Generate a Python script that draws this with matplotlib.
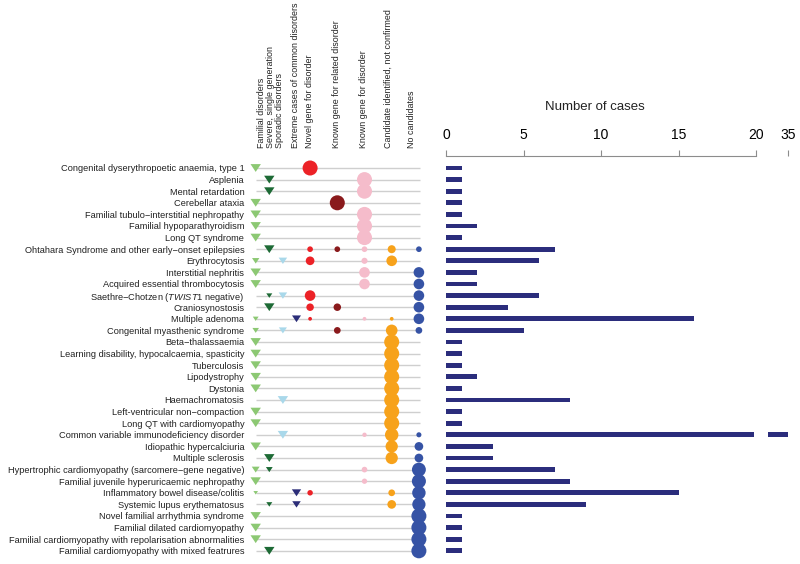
import numpy as np
import matplotlib
matplotlib.use("Agg")
import matplotlib.pyplot as plt

plt.rcParams['font.family'] = ['Liberation Sans', 'DejaVu Sans']
plt.rcParams['mathtext.fontset'] = 'custom'
plt.rcParams['mathtext.rm'] = 'Liberation Sans'
plt.rcParams['mathtext.it'] = 'Liberation Sans:italic'

# disorders, top to bottom
disorders = [
    "Congenital dyserythropoetic anaemia, type 1",
    "Asplenia",
    "Mental retardation",
    "Cerebellar ataxia",
    "Familial tubulo\u2212interstitial nephropathy",
    "Familial hypoparathyroidism",
    "Long QT syndrome",
    "Ohtahara Syndrome and other early\u2212onset epilepsies",
    "Erythrocytosis",
    "Interstitial nephritis",
    "Acquired essential thrombocytosis",
    "Saethre\u2212Chotzen ($\\mathit{TWIST1}$ negative)",
    "Craniosynostosis",
    "Multiple adenoma",
    "Congenital myasthenic syndrome",
    "Beta\u2212thalassaemia",
    "Learning disability, hypocalcaemia, spasticity",
    "Tuberculosis",
    "Lipodystrophy",
    "Dystonia",
    "Haemachromatosis",
    "Left-ventricular non\u2212compaction",
    "Long QT with cardiomyopathy",
    "Common variable immunodeficiency disorder",
    "Idiopathic hypercalciuria",
    "Multiple sclerosis",
    "Hypertrophic cardiomyopathy (sarcomere\u2212gene negative)",
    "Familial juvenile hyperuricaemic nephropathy",
    "Inflammatory bowel disease/colitis",
    "Systemic lupus erythematosus",
    "Novel familial arrhythmia syndrome",
    "Familial dilated cardiomyopathy",
    "Familial cardiomyopathy with repolarisation abnormalities",
    "Familial cardiomyopathy with mixed featrures",
]
cases = [1, 1, 1, 1, 1, 2, 1, 7, 6, 2, 2, 6, 4, 16, 5, 1, 1, 1, 2, 1,
         8, 1, 1, 35, 3, 3, 7, 8, 15, 9, 1, 1, 1, 1]

# study design (triangles), counts per disorder
familial = [1, 0, 0, 1, 1, 2, 1, 0, 3, 2, 2, 0, 0, 5, 2, 1, 1, 1, 2, 1,
            0, 1, 1, 0, 3, 0, 4, 8, 3, 0, 1, 1, 1, 0]
severe   = [0, 1, 1, 0, 0, 0, 0, 7, 0, 0, 0, 2, 4, 0, 0, 0, 0, 0, 0, 0,
            0, 0, 0, 0, 0, 3, 3, 0, 0, 3, 0, 0, 0, 1]
sporadic = [0, 0, 0, 0, 0, 0, 0, 0, 4, 0, 0, 4, 0, 0, 3, 0, 0, 0, 0, 0,
            8, 0, 0, 35, 0, 0, 0, 0, 0, 0, 0, 0, 0, 0]
extreme  = [0, 0, 0, 0, 0, 0, 0, 0, 0, 0, 0, 0, 0, 12, 0, 0, 0, 0, 0, 0,
            0, 0, 0, 0, 0, 0, 0, 0, 12, 6, 0, 0, 0, 0]

# outcome (circles), counts per disorder
novel     = [1, 0, 0, 0, 0, 0, 0, 1, 2, 0, 0, 3, 1, 1, 0, 0, 0, 0, 0, 0,
             0, 0, 0, 0, 0, 0, 0, 0, 2, 0, 0, 0, 0, 0]
related   = [0, 0, 0, 1, 0, 0, 0, 1, 0, 0, 0, 0, 1, 0, 1, 0, 0, 0, 0, 0,
             0, 0, 0, 0, 0, 0, 0, 0, 0, 0, 0, 0, 0, 0]
known     = [0, 1, 1, 0, 1, 2, 1, 1, 1, 1, 1, 0, 0, 1, 0, 0, 0, 0, 0, 0,
             0, 0, 0, 3, 0, 0, 1, 1, 0, 0, 0, 0, 0, 0]
candidate = [0, 0, 0, 0, 0, 0, 0, 2, 3, 0, 0, 0, 0, 1, 3, 1, 1, 1, 2, 1,
             8, 1, 1, 28, 2, 2, 0, 0, 3, 3, 0, 0, 0, 0]
nocand    = [0, 0, 0, 0, 0, 0, 0, 1, 0, 1, 1, 3, 2, 8, 1, 0, 0, 0, 0, 0,
             0, 0, 0, 4, 1, 1, 6, 7, 12, 7, 1, 1, 1, 1]

col_labels = ["Familial disorders", "Severe, single generation", "Sporadic disorders",
              "Extreme cases of common disorders", "Novel gene for disorder",
              "Known gene for related disorder", "Known gene for disorder",
              "Candidate identified, not confirmed", "No candidates"]
bar_ticks = [0, 5, 10, 15, 20, 35]

tri_series = [familial, severe, sporadic, extreme]
tri_colors = ['#8cc873', '#1d6a35', '#a9d8ea', '#2b2d78']
circ_series = [novel, related, known, candidate, nocand]
circ_colors = ['#ec2227', '#8a1a1c', '#f5bccb', '#f7a21b', '#3653a5']
tri_x = [0, 1, 2, 3]
circ_x = [4, 6, 8, 10, 12]

W, H = 800, 564
fig = plt.figure(figsize=(W / 100, H / 100), dpi=100)

n = len(disorders)
row_px = 11.6
top_px = 168 - row_px / 2
bot = 1 - (top_px + n * row_px) / H
hgt = n * row_px / H

# matrix panel
unit = 13.6
c0 = 255.7
ax_m = fig.add_axes([245 / W, bot, 185 / W, hgt])
ax_m.set_xlim((245 - c0) / unit, (430 - c0) / unit)
ax_m.set_ylim(n - 0.5, -0.5)
rows = np.arange(n)
ax_m.hlines(rows, 0, 12.1, color='#cfcfcf', lw=1.0, zorder=1)

tri = [(-1, 0.75), (1, 0.75), (0, -0.75)]
tri_full = 56.0
circ_full = 117.0
tot = np.array(cases, dtype=float)
for xs, vals, col in zip(tri_x, tri_series, tri_colors):
    v = np.array(vals, dtype=float)
    m = v > 0
    ax_m.scatter(np.full(m.sum(), xs), rows[m], s=tri_full * v[m] / tot[m],
                 marker=tri, color=col, linewidths=0, zorder=3, clip_on=False)
for xs, vals, col in zip(circ_x, circ_series, circ_colors):
    v = np.array(vals, dtype=float)
    m = v > 0
    ax_m.scatter(np.full(m.sum(), xs), rows[m], s=circ_full * v[m] / tot[m],
                 marker='o', color=col, linewidths=0, zorder=3, clip_on=False)

ax_m.set_yticks(rows)
ax_m.set_yticklabels(disorders, fontsize=6.7, color='#222222')
ax_m.tick_params(axis='y', length=0, pad=0.5)
ax_m.set_xticks([])
for s in ax_m.spines.values():
    s.set_visible(False)

hdr_px = [261.7, 270.3, 280.0, 295.0, 310.0, 336.7, 363.3, 388.3, 411.7]
for xp, lab in zip(hdr_px, col_labels):
    fig.text(xp / W, 1 - 148 / H, lab, rotation=90, ha='center', va='bottom',
             fontsize=6.4, color='#222222')

# bar panel, axis broken after 20
zero_px = 446
per = 15.5
ax_b = fig.add_axes([440 / W, bot, 360 / W, hgt])
ax_b.set_xlim((440 - zero_px) / per, (800 - zero_px) / per)
ax_b.set_ylim(n - 0.5, -0.5)
brk_lo, brk_hi, top_pos = 19.85, 20.75, (788 - zero_px) / per
bar_col = '#2b2d7c'
for i, v in enumerate(cases):
    if v <= 20:
        ax_b.barh(i, v, height=0.43, color=bar_col, linewidth=0)
    else:
        ax_b.barh(i, brk_lo, height=0.43, color=bar_col, linewidth=0)
        ax_b.barh(i, top_pos - brk_hi, left=brk_hi, height=0.43, color=bar_col, linewidth=0)

tick_pos = [t if t <= 20 else top_pos for t in bar_ticks]
ax_b.xaxis.tick_top()
ax_b.set_xticks(tick_pos)
ax_b.set_xticklabels([str(t) for t in bar_ticks], fontsize=6.7, color='#333333')
ax_b.tick_params(axis='x', length=4.3, width=0.8, color='#8c8c8c', pad=5.5)
ax_b.set_yticks([])
for k in ['left', 'right', 'bottom']:
    ax_b.spines[k].set_visible(False)
ax_b.spines['top'].set_position(('outward', 4.7))
ax_b.spines['top'].set_bounds(0, 20)
ax_b.spines['top'].set_color('#8c8c8c')
ax_b.spines['top'].set_linewidth(0.8)

fig.text(595 / W, 1 - 107 / H, "Number of cases", ha='center', va='center',
         fontsize=9.5, color='#222222')

fig.savefig("out.png", dpi=100)
